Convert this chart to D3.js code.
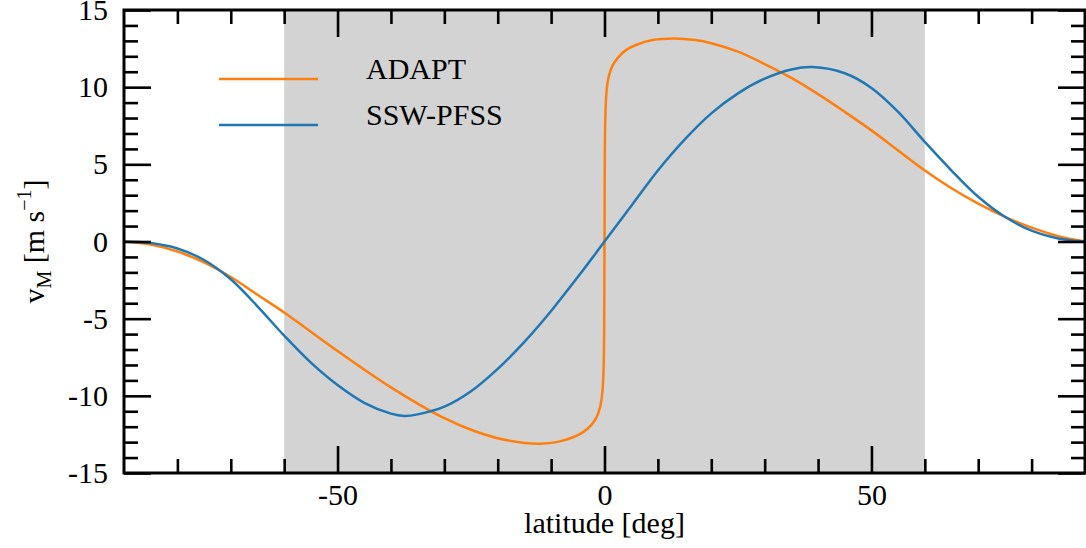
<!DOCTYPE html>
<html>
<head>
<meta charset="utf-8">
<script src="https://d3js.org/d3.v7.min.js"></script>
<style>
  body { margin: 0; background: #fff; }
  svg { display: block; }
  .axis text { font-family: "Liberation Serif", serif; font-size: 30px; fill: #000; }
  .axis path { display: none; }
  .axis line { stroke: #000; stroke-width: 2.6; }
  .axisLabel { font-family: "Liberation Serif", serif; font-size: 30px; fill: #000; }
</style>
</head>
<body>
<script>
// latitude [deg] and v_M [m/s]
const adaptLat = [-90, -85, -80, -75, -70, -65, -60, -55, -50, -45, -40, -35, -30, -25, -20, -15, -12, -9, -6, -4, -2.5, -1.5, -0.8, -0.4, -0.15, 0,
                  0.15, 0.4, 0.8, 1.5, 2.5, 4, 6, 9, 13, 17, 20, 25, 30, 35, 40, 45, 50, 55, 60, 65, 70, 75, 80, 85, 90];
const adaptV = [0, -0.2, -0.65, -1.35, -2.3, -3.45, -4.6, -5.85, -7.1, -8.3, -9.45, -10.5, -11.45, -12.2, -12.75, -13.05, -13.1, -13.0, -12.7, -12.35, -11.9, -11.4, -10.7, -9.8, -8.0, 0,
                8.0, 9.8, 10.7, 11.4, 11.9, 12.4, 12.75, 13.05, 13.15, 13.05, 12.85, 12.3, 11.5, 10.6, 9.55, 8.4, 7.2, 5.9, 4.6, 3.45, 2.45, 1.6, 0.9, 0.35, 0];

const sswLat = [-90, -85, -80, -75, -70, -65, -60, -55, -50, -45, -40, -37.5, -35, -30, -25, -20, -15, -10, -5, 0,
                5, 10, 15, 20, 25, 30, 35, 39, 45, 50, 55, 60, 65, 70, 75, 80, 85, 90];
const sswV = [0, -0.1, -0.45, -1.2, -2.45, -4.2, -6.1, -7.85, -9.3, -10.45, -11.15, -11.3, -11.2, -10.7, -9.7, -8.25, -6.5, -4.5, -2.3, 0,
              2.3, 4.6, 6.6, 8.3, 9.6, 10.55, 11.15, 11.3, 10.9, 9.95, 8.4, 6.45, 4.6, 2.9, 1.6, 0.7, 0.2, 0];

const seriesNames = ["ADAPT", "SSW-PFSS"];
const seriesColors = ["#ff7f0e", "#1f77b4"];
const shadeRange = [-60, 60];
const xMajor = [-50, 0, 50];
const xMinor = d3.range(-80, 90, 10).filter(d => d % 50 !== 0);
const yMajor = [-15, -10, -5, 0, 5, 10, 15];
const yMinor = d3.range(-14, 15, 1).filter(d => d % 5 !== 0);

const w = 1086, h = 548;
const margin = {top: 10, right: 1, bottom: 75, left: 124};

const svg = d3.select("body").append("svg")
  .attr("width", w)
  .attr("height", h);

const x = d3.scaleLinear().domain([-90, 90]).range([margin.left, w - margin.right]);
const y = d3.scaleLinear().domain([-15, 15]).range([h - margin.bottom, margin.top]);

// shaded band
svg.append("rect")
  .attr("x", x(shadeRange[0]))
  .attr("y", y(15))
  .attr("width", x(shadeRange[1]) - x(shadeRange[0]))
  .attr("height", y(-15) - y(15))
  .attr("fill", "#d3d3d3");

const line = d3.line()
  .x(d => x(d[0]))
  .y(d => y(d[1]))
  .curve(d3.curveCatmullRom.alpha(0.5));

const series = [
  d3.zip(adaptLat, adaptV),
  d3.zip(sswLat, sswV)
];

svg.append("clipPath").attr("id", "plot")
  .append("rect")
  .attr("x", x(-90)).attr("y", y(15))
  .attr("width", x(90) - x(-90)).attr("height", y(-15) - y(15));

svg.append("g").attr("clip-path", "url(#plot)")
  .selectAll("path")
  .data(series)
  .enter().append("path")
  .attr("d", line)
  .attr("fill", "none")
  .attr("stroke", (d, i) => seriesColors[i])
  .attr("stroke-width", 2.5);

const fmt = d => String(d);

// bottom axis
svg.append("g").attr("class", "axis")
  .attr("transform", `translate(0,${y(-15)})`)
  .call(d3.axisBottom(x).tickValues(xMajor).tickSize(-27).tickPadding(11).tickFormat(fmt));
svg.append("g").attr("class", "axis")
  .attr("transform", `translate(0,${y(-15)})`)
  .call(d3.axisBottom(x).tickValues(xMinor).tickSize(-14).tickFormat(""));

// top axis
svg.append("g").attr("class", "axis")
  .attr("transform", `translate(0,${y(15)})`)
  .call(d3.axisTop(x).tickValues(xMajor).tickSize(-27).tickFormat(""));
svg.append("g").attr("class", "axis")
  .attr("transform", `translate(0,${y(15)})`)
  .call(d3.axisTop(x).tickValues(xMinor).tickSize(-14).tickFormat(""));

// left axis
svg.append("g").attr("class", "axis")
  .attr("transform", `translate(${x(-90)},0)`)
  .call(d3.axisLeft(y).tickValues(yMajor).tickSize(-27).tickPadding(16).tickFormat(fmt));
svg.append("g").attr("class", "axis")
  .attr("transform", `translate(${x(-90)},0)`)
  .call(d3.axisLeft(y).tickValues(yMinor).tickSize(-14).tickFormat(""));

// right axis
svg.append("g").attr("class", "axis")
  .attr("transform", `translate(${x(90)},0)`)
  .call(d3.axisRight(y).tickValues(yMajor).tickSize(-27).tickFormat(""));
svg.append("g").attr("class", "axis")
  .attr("transform", `translate(${x(90)},0)`)
  .call(d3.axisRight(y).tickValues(yMinor).tickSize(-14).tickFormat(""));

// frame
svg.append("rect")
  .attr("x", x(-90)).attr("y", y(15))
  .attr("width", x(90) - x(-90)).attr("height", y(-15) - y(15))
  .attr("fill", "none")
  .attr("stroke", "#000")
  .attr("stroke-width", 3);

// legend
const legend = svg.append("g");
seriesNames.forEach((name, i) => {
  const ly = 79 + i * 46;
  legend.append("line")
    .attr("x1", 219).attr("x2", 318)
    .attr("y1", ly).attr("y2", ly)
    .attr("stroke", seriesColors[i])
    .attr("stroke-width", 2.5);
  legend.append("text")
    .attr("class", "axisLabel")
    .attr("x", 366).attr("y", ly - 10)
    .attr("dy", "0.32em")
    .text(name);
});

// axis labels
svg.append("text")
  .attr("class", "axisLabel")
  .attr("x", x(0))
  .attr("y", 533)
  .attr("text-anchor", "middle")
  .text("latitude [deg]");

const yl = svg.append("text")
  .attr("class", "axisLabel")
  .attr("text-anchor", "middle")
  .attr("transform", `translate(44,${y(0)}) rotate(-90)`);
yl.append("tspan").text("v");
yl.append("tspan").attr("font-size", "20px").attr("dy", 7).text("M");
yl.append("tspan").attr("dy", -7).text(" [m s");
yl.append("tspan").attr("font-size", "20px").attr("dy", -13).text("\u22121");
yl.append("tspan").attr("dy", 13).text("]");
</script>
</body>
</html>
